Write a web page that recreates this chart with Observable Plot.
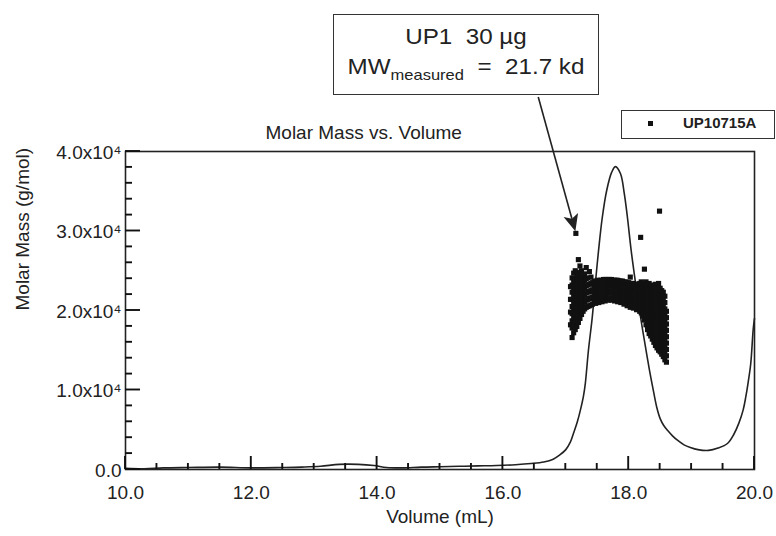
<!DOCTYPE html>
<html>
<head>
<meta charset="utf-8">
<script src="https://cdn.jsdelivr.net/npm/d3@7"></script>
<script src="https://cdn.jsdelivr.net/npm/@observablehq/plot@0.6"></script>
<style>
  html, body { margin: 0; padding: 0; background: #fff; }
  #wrap { position: relative; width: 776px; height: 536px; font-family: "Liberation Sans", Arial, Helvetica, sans-serif; color: #222; }
  .note { position: absolute; left: 333px; top: 14px; width: 264px; height: 79px; border: 1.5px solid #333; background: #fff; }
  .note .ln { position: absolute; left: 0; width: 100%; text-align: center; font-size: 22px; line-height: 22px; white-space: pre; transform: scaleX(1.1); }
  .note sub { font-size: 15px; vertical-align: -6px; line-height: 0; }
  .legend { position: absolute; left: 621px; top: 110px; width: 152px; height: 27px; border: 1.5px solid #333; background: #fff; }
  .legend .mk { position: absolute; left: 26px; top: 10px; width: 5px; height: 5px; background: #111; }
  .legend .tx { position: absolute; left: 61px; top: 4px; font-size: 15px; line-height: 15px; font-weight: bold; }
</style>
</head>
<body>
<div id="wrap"></div>
<script>
// ---------- data ----------
const chartTitle = "Molar Mass vs. Volume";
const xLabel = "Volume (mL)";
const yLabel = "Molar Mass (g/mol)";
const legendLabel = "UP10715A";
const noteLine1 = "UP1  30 \u00b5g";
const noteMain = "MW";
const noteSub = "measured";
const noteRest = "  =  21.7 kd";

const xMajor = [10, 12, 14, 16, 18, 20];
const xTickLabels = ["10.0", "12.0", "14.0", "16.0", "18.0", "20.0"];
const xMinor = [10.5, 11, 11.5, 12.5, 13, 13.5, 14.5, 15, 15.5, 16.5, 17, 17.5, 18.5, 19, 19.5];
const yMajor = [0, 10000, 20000, 30000, 40000];
const yTickLabels = ["0.0", "1.0x10\u2074", "2.0x10\u2074", "3.0x10\u2074", "4.0x10\u2074"];
const yMinor = [2000, 4000, 6000, 8000, 12000, 14000, 16000, 18000, 22000, 24000, 26000, 28000, 32000, 34000, 36000, 38000];

// concentration trace (drawn on the same axes)
const traceVolume = [10.0, 10.3, 10.6, 11.0, 11.5, 12.0, 12.5, 12.8, 13.1, 13.4, 13.7, 13.95, 14.15, 14.4, 14.7, 15.0, 15.3, 15.6, 15.9, 16.2, 16.45, 16.65, 16.8, 16.9, 17.0, 17.07, 17.12, 17.18, 17.23, 17.28, 17.31, 17.36, 17.42, 17.47, 17.52, 17.58, 17.65, 17.73, 17.79, 17.87, 17.93, 17.98, 18.04, 18.11, 18.19, 18.25, 18.33, 18.40, 18.45, 18.50, 18.56, 18.62, 18.70, 18.78, 18.88, 18.98, 19.10, 19.27, 19.42, 19.57, 19.67, 19.75, 19.82, 19.86, 19.90, 19.94, 19.98, 20.0];
const traceSignal = [150, 100, 200, 250, 300, 200, 250, 300, 400, 650, 650, 500, 250, 200, 300, 350, 400, 450, 500, 600, 750, 950, 1300, 1800, 2500, 3400, 4500, 5900, 7400, 9200, 10800, 15000, 19100, 23400, 27500, 31700, 35100, 37400, 38100, 37200, 34700, 31700, 27500, 23400, 19100, 16200, 12500, 9600, 7700, 6400, 5500, 4900, 4200, 3650, 3100, 2770, 2500, 2400, 2700, 3270, 4400, 5800, 7500, 9060, 11000, 13300, 17700, 19000];

// molar mass points: one volume per column, several measured values per column
const pointVolume = [17.075, 17.100, 17.125, 17.150, 17.175, 17.200, 17.225, 17.250, 17.275, 17.300, 17.325, 17.350, 17.375, 17.400,
  17.425, 17.450, 17.475, 17.500, 17.525, 17.550, 17.575, 17.600, 17.625, 17.650, 17.675, 17.700, 17.725, 17.750, 17.775, 17.800,
  17.825, 17.850, 17.875, 17.900, 17.925, 17.950, 17.975, 18.000, 18.025, 18.050, 18.075, 18.100, 18.125, 18.150, 18.175,
  18.200, 18.225, 18.250, 18.275, 18.300, 18.325, 18.350, 18.375, 18.400, 18.425, 18.450, 18.475, 18.500, 18.525, 18.550, 18.575, 18.600,
  17.160, 18.190, 18.490];
const pointMolarMass = [
  [18200, 19800, 21400, 23000],
  [16600, 17800, 18700, 19600, 20500, 21400, 22300, 23200, 24100],
  [17200, 18200, 19100, 20000, 20900, 21800, 22700, 23600, 24700],
  [17600, 18600, 19500, 20400, 21300, 22200, 23100, 24000, 25000],
  [18000, 19000, 19900, 20800, 21700, 22600, 23500, 24400],
  [18500, 19400, 20300, 21200, 22100, 23000, 23900, 24800, 26400],
  [19000, 19900, 20800, 21700, 22600, 23500, 24400, 25600],
  [19500, 20400, 21300, 22200, 23100, 24000, 25000],
  [19900, 20800, 21700, 22600, 23500, 24300],
  [20200, 21100, 22000, 22900, 23800, 24600],
  [20400, 21300, 22200, 23100, 24000, 25400],
  [20500, 21400, 22300, 23200, 24100],
  [20600, 21500, 22400, 23300, 24900],
  [20700, 21600, 22500, 23400, 24200],
  [20800, 21700, 22600, 23500],
  [21200, 22100, 23000, 23700],
  [20900, 21800, 22700, 23600],
  [21300, 22200, 23100, 23800],
  [21000, 21900, 22800, 23700],
  [21400, 22300, 23200, 23800],
  [21100, 22000, 22900, 23800],
  [21500, 22400, 23300, 23900],
  [21200, 22100, 23000, 23900],
  [21600, 22500, 23400, 23900],
  [21300, 22200, 23100, 23900],
  [21600, 22500, 23400, 23900],
  [21300, 22200, 23100, 23900],
  [21600, 22500, 23400, 23800],
  [21200, 22100, 23000, 23800],
  [21500, 22400, 23300, 23800],
  [21100, 22000, 22900, 23800],
  [21400, 22300, 23200, 23700],
  [21000, 21900, 22800, 23700],
  [21300, 22200, 23100, 23700],
  [20800, 21700, 22600, 23600],
  [21100, 22000, 22900, 23600],
  [20600, 21500, 22400, 23500],
  [20900, 21800, 22700, 23500],
  [20400, 21300, 22200, 23100, 24200],
  [20800, 21700, 22600, 23400],
  [20300, 21200, 22100, 23000, 23400],
  [20600, 21500, 22400, 23300],
  [20100, 21000, 21900, 22800, 23300],
  [20400, 21300, 22200, 23200],
  [19900, 20800, 21700, 22600, 23400],
  [19700, 20500, 21300, 22100, 22900, 23600],
  [19300, 20100, 20900, 21700, 22500, 23300],
  [18800, 19600, 20400, 21200, 22000, 22800, 23400, 25200],
  [18200, 19000, 19800, 20600, 21400, 22200, 23000, 23600],
  [17600, 18400, 19200, 20000, 20800, 21600, 22400, 23200],
  [17100, 17900, 18700, 19500, 20300, 21100, 21900, 22700, 23400],
  [16800, 17600, 18400, 19200, 20000, 20800, 21600, 22400, 23200],
  [16400, 17200, 18000, 18800, 19600, 20400, 21200, 22000, 22800],
  [16000, 16800, 17600, 18400, 19200, 20000, 20800, 21600, 22400, 23000],
  [15600, 16400, 17200, 18000, 18800, 19600, 20400, 21200, 22000, 22800, 23300],
  [15300, 16100, 16900, 17700, 18500, 19300, 20100, 20900, 21700, 22500, 23200],
  [15000, 15800, 16600, 17400, 18200, 19000, 19800, 20600, 21400, 22200, 23400],
  [14800, 15600, 16400, 17200, 18000, 18800, 19600, 20400, 21200, 22000, 22800],
  [14500, 15300, 16100, 16900, 17700, 18500, 19300, 20100, 20900, 21700, 22500],
  [14200, 15000, 15800, 16600, 17400, 18200, 19000, 19800, 20600, 21400, 22300],
  [13800, 14600, 15400, 16200, 17000, 17800, 18600, 19400, 20200, 21000, 21800],
  [13500, 14300, 15100, 15900, 16700, 17500, 18300, 19100, 19900],
  [29700],
  [29200],
  [32500]
];

// annotation arrow (tail at the note box, head at the data)
const arrowTail = [16.57, 46800];
const arrowTip = [17.16, 29900];

// ---------- build ----------
const trace = traceVolume.map((v, i) => ({v, s: traceSignal[i]}));
const points = pointVolume.flatMap((v, i) => pointMolarMass[i].map(m => ({v, m})));

const font = '"Liberation Sans", Arial, Helvetica, sans-serif';
const plot = Plot.plot({
  width: 776,
  height: 536,
  marginLeft: 125,
  marginRight: 22,
  marginTop: 151,
  marginBottom: 67,
  style: {fontFamily: font, fontSize: "19px"},
  x: {domain: [10, 20]},
  y: {domain: [0, 40000]},
  marks: [
    Plot.line(trace, {x: "v", y: "s", curve: "catmull-rom", stroke: "#222", strokeWidth: 1.6}),
    Plot.dot(points, {x: "v", y: "m", symbol: "square", r: 2.9, fill: "#111", stroke: "none"}),
    Plot.frame({stroke: "#222", strokeWidth: 1.6}),
    Plot.axisX(xMajor, {tickSize: 0, tickPadding: 16, fontSize: 19, fill: "#222", tickFormat: d => xTickLabels[xMajor.indexOf(d)], label: null}),
    Plot.axisY(yMajor, {tickSize: 0, tickPadding: 4, fontSize: 19, fill: "#222", dy: 1, tickFormat: d => yTickLabels[yMajor.indexOf(d)], label: null}),
    Plot.text([xLabel], {text: d => d, frameAnchor: "bottom", dy: 53, fontSize: 19, fill: "#222"}),
    Plot.text([yLabel], {text: d => d, frameAnchor: "left", dx: -103, rotate: -90, fontSize: 19, fill: "#222"}),
    Plot.text([chartTitle], {text: d => d, frameAnchor: "top-left", dx: 140, dy: -26, textAnchor: "start", fontSize: 19, fill: "#222"})
  ]
});

const wrap = document.getElementById("wrap");
wrap.appendChild(plot);

// inward ticks and arrow, positioned through the plot's own scales
const sx = plot.scale("x"), sy = plot.scale("y");
const g = d3.select(plot).append("g").attr("stroke", "#111").attr("stroke-width", 1.9).attr("fill", "none");
const xBase = sy.apply(0), yBase = sx.apply(10);
const xTicks = xMajor.map(v => [v, 13]).concat(xMinor.map(v => [v, 6]));
const yTicks = yMajor.map(v => [v, 15]).concat(yMinor.map(v => [v, 7]));
for (const [v, l] of xTicks) {
  const px = sx.apply(v);
  g.append("line").attr("x1", px).attr("x2", px).attr("y1", xBase).attr("y2", xBase - l);
}
for (const [v, l] of yTicks) {
  const py = sy.apply(v);
  g.append("line").attr("x1", yBase).attr("x2", yBase + l).attr("y1", py).attr("y2", py);
}

const x0 = sx.apply(arrowTail[0]), y0 = sy.apply(arrowTail[1]);
const x1 = sx.apply(arrowTip[0]), y1 = sy.apply(arrowTip[1]);
const len = Math.hypot(x1 - x0, y1 - y0);
const ux = (x1 - x0) / len, uy = (y1 - y0) / len;
const headL = 17, headW = 7.5;
const bx = x1 - ux * headL, by = y1 - uy * headL;
const nx = bx + ux * 4, ny = by + uy * 4;
g.append("line").attr("x1", x0).attr("y1", y0).attr("x2", nx).attr("y2", ny).attr("stroke-width", 1.6).attr("stroke", "#222");
g.append("path")
  .attr("d", `M${x1},${y1}L${bx - uy * headW},${by + ux * headW}L${nx},${ny}L${bx + uy * headW},${by - ux * headW}Z`)
  .attr("fill", "#222").attr("stroke", "none");

// note box
const note = document.createElement("div");
note.className = "note";
const l1 = document.createElement("div");
l1.className = "ln"; l1.style.top = "11px"; l1.textContent = noteLine1;
const l2 = document.createElement("div");
l2.className = "ln"; l2.style.top = "41px";
l2.append(noteMain);
const sub = document.createElement("sub"); sub.textContent = noteSub; l2.append(sub);
l2.append(noteRest);
note.append(l1, l2);
wrap.appendChild(note);

// legend
const legend = document.createElement("div");
legend.className = "legend";
const mk = document.createElement("div"); mk.className = "mk";
const tx = document.createElement("div"); tx.className = "tx"; tx.textContent = legendLabel;
legend.append(mk, tx);
wrap.appendChild(legend);
</script>
</body>
</html>
